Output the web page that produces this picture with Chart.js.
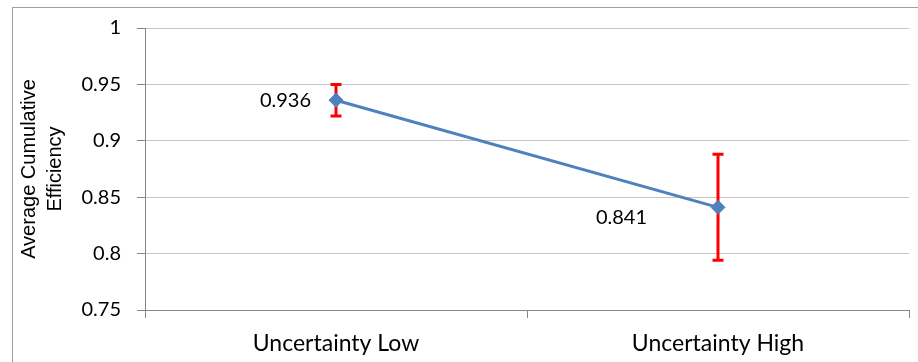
<!DOCTYPE html>
<html><head><meta charset="utf-8">
<script src="https://cdn.jsdelivr.net/npm/chart.js@4"></script>
<style>html,body{margin:0;padding:0;background:#fff}#wrap{width:918px;height:362px}</style>
</head><body><div id="wrap"><canvas id="c" width="918" height="362"></canvas></div>
<script>
const categories = ['Uncertainty Low', 'Uncertainty High'];
const efficiency = [0.936, 0.841];
const errorPlus = [0.014, 0.047];
const errorMinus = [0.014, 0.047];
const yTicks = [0.75, 0.8, 0.85, 0.9, 0.95, 1];
const yTitle = ['Average Cumulative', 'Efficiency'];

const FONT = 'Lato';

const frame = {
  id: 'frame',
  beforeDraw(chart) {
    const ctx = chart.ctx;
    ctx.save();
    ctx.fillStyle = '#fff';
    ctx.fillRect(0, 0, chart.width, chart.height);
    ctx.strokeStyle = '#a0a0a0';
    ctx.lineWidth = 1;
    ctx.strokeRect(12.5, 7.5, chart.width + 20, chart.height + 20);
    ctx.restore();
  }
};

const errorBars = {
  id: 'errorBars',
  beforeDatasetsDraw(chart) {
    const ctx = chart.ctx, y = chart.scales.y;
    const meta = chart.getDatasetMeta(0);
    ctx.save();
    ctx.strokeStyle = '#FF0000';
    ctx.lineWidth = 3;
    ctx.lineCap = 'butt';
    meta.data.forEach((pt, i) => {
      const v = efficiency[i];
      const yt = y.getPixelForValue(v + errorPlus[i]);
      const yb = y.getPixelForValue(v - errorMinus[i]);
      const px = pt.x;
      ctx.beginPath();
      ctx.moveTo(px, yt); ctx.lineTo(px, yb);
      ctx.moveTo(px - 5.5, yt); ctx.lineTo(px + 5.5, yt);
      ctx.moveTo(px - 5.5, yb); ctx.lineTo(px + 5.5, yb);
      ctx.stroke();
    });
    ctx.restore();
  }
};

const dataLabels = {
  id: 'dataLabels',
  afterDatasetsDraw(chart) {
    const ctx = chart.ctx;
    const meta = chart.getDatasetMeta(0);
    const offsets = [{dx: -25, dy: 0, align: 'right'}, {dx: -71, dy: 10, align: 'right'}];
    ctx.save();
    ctx.font = '20px ' + FONT;
    ctx.fillStyle = '#000';
    ctx.textBaseline = 'middle';
    meta.data.forEach((pt, i) => {
      const o = offsets[i];
      ctx.textAlign = o.align;
      ctx.fillText(efficiency[i].toFixed(3), pt.x + o.dx, pt.y + o.dy);
    });
    ctx.restore();
  }
};

function build() {
  Chart.defaults.font.family = FONT;
  Chart.defaults.color = '#000';
  new Chart(document.getElementById('c'), {
    type: 'line',
    data: {
      labels: categories,
      datasets: [{
        data: efficiency,
        borderColor: '#4F81BD',
        borderWidth: 3,
        pointStyle: 'rectRot',
        pointRadius: 7,
        pointBackgroundColor: '#4F81BD',
        pointBorderColor: '#4F81BD',
        pointBorderWidth: 1,
        tension: 0
      }]
    },
    options: {
      responsive: false,
      animation: false,
      devicePixelRatio: 1,
      layout: {padding: {left: 0, top: 28, right: 9, bottom: 0}},
      plugins: {legend: {display: false}, tooltip: {enabled: false}},
      scales: {
        x: {
          offset: true,
          grid: {display: true, drawOnChartArea: false, drawTicks: true, tickLength: 8, color: '#868686', offset: true},
          border: {color: '#868686', width: 1},
          ticks: {font: {size: 23}, padding: 12, color: '#000'},
          afterFit(s) { s.height = 52; }
        },
        y: {
          min: 0.75, max: 1,
          afterBuildTicks(s) { s.ticks = yTicks.map(v => ({value: v})); },
          grid: {color: '#c4c4c4', tickColor: '#868686', tickLength: 8, drawTicks: true},
          border: {color: '#868686', width: 1},
          ticks: {
            font: {size: 20}, padding: 16, color: '#000',
            callback: v => String(+(+v).toFixed(2))
          },
          title: {
            display: true, text: yTitle,
            font: {family: 'Liberation Sans', size: 20, lineHeight: 1.3}, color: '#000',
            padding: {top: 16, bottom: 0}
          },
          afterFit(s) { s.width = 145; }
        }
      }
    },
    plugins: [frame, errorBars, dataLabels]
  });
}
if (document.fonts && document.fonts.load) {
  Promise.all([document.fonts.load('20px ' + FONT), document.fonts.load('20px "Liberation Sans"')]).then(build, build);
} else build();
</script>
</body></html>
